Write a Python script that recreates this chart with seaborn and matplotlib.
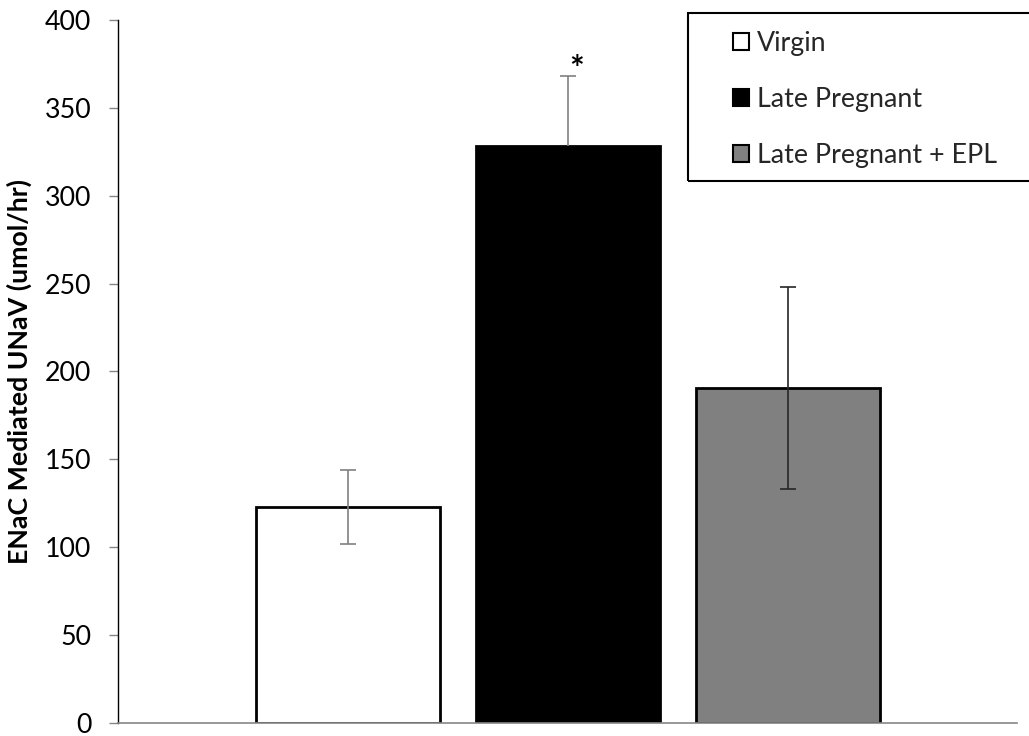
import matplotlib
matplotlib.use("Agg")
import matplotlib.pyplot as plt
import seaborn as sns
import pandas as pd
from matplotlib.patches import Patch, Rectangle

# Group means with lower / upper error (SEM), in umol/hr
groups = ["Virgin", "Late Pregnant", "Late Pregnant + EPL"]
means = [123, 328, 190.5]
err_low = [21, 0, 57.5]
err_high = [21, 40, 57.5]
marks = ["", "*", ""]
yticks = [0, 50, 100, 150, 200, 250, 300, 350, 400]
ylabel = "ENaC Mediated UNaV (umol/hr)"

fill_colors = ["#ffffff", "#000000", "#808080"]
err_colors = ["#808080", "#808080", "#262626"]

sns.set_theme(style="white")
plt.rcParams["font.family"] = ["Lato", "DejaVu Sans"]
FS = 19.3

fig = plt.figure(figsize=(10.29, 7.36), dpi=100)
ax = fig.add_axes([118.3 / 1029, 13.3 / 736, (1017 - 118.3) / 1029, (722.7 - 20) / 736])

df = pd.DataFrame({"group": groups, "value": means})
sns.barplot(
    data=df, x="group", y="value", hue="group", order=groups, hue_order=groups,
    palette=fill_colors, width=0.836, edgecolor="black", linewidth=2.0,
    legend=False, dodge=False, errorbar=None, ax=ax,
)

for i, (m, lo, hi) in enumerate(zip(means, err_low, err_high)):
    _, caps, _ = ax.errorbar(
        i, m, yerr=[[lo], [hi]], fmt="none", ecolor=err_colors[i],
        elinewidth=1.2, capsize=6, capthick=1.2, zorder=5,
    )
    if lo == 0:
        caps[0].set_visible(False)
    if marks[i]:
        ax.annotate(
            marks[i], xy=(i, m + hi), xytext=(5.8, -3), textcoords="offset points",
            ha="center", va="baseline", fontsize=25, fontweight="bold", color="black",
        )

ax.set_xlim(-1.044, 3.04)
ax.set_ylim(0, 400)
ax.set_yticks(yticks)
ax.set_yticklabels([str(t) for t in yticks], fontsize=FS, color="black")
ax.set_xticks([])
ax.set_xlabel("")
ax.set_ylabel(ylabel, fontsize=FS, fontweight="bold", color="black")
ax.yaxis.set_label_coords(-86 / 899, 0.5)

ax.tick_params(axis="y", which="major", left=True, length=6.5, width=1.0,
               color="#868686", pad=13)
for side in ("top", "right"):
    ax.spines[side].set_visible(False)
ax.spines["left"].set_color("black")
ax.spines["left"].set_linewidth(1.0)
ax.spines["bottom"].set_color("#868686")
ax.spines["bottom"].set_linewidth(1.2)

# Legend with a frame that runs off the right edge of the figure
handles = [Patch(facecolor=c, edgecolor="black", linewidth=1.5) for c in fill_colors]
fig.legend(
    handles, groups, loc="upper left", bbox_to_anchor=(733 / 1029, 1 - 31 / 736),
    frameon=False, fontsize=FS, handlelength=0.6, handleheight=0.6,
    handletextpad=0.3, labelspacing=1.16, borderpad=0, borderaxespad=0,
)
fig.patches.append(Rectangle(
    (687.5 / 1029, 1 - 181 / 736), (1040 - 687.5) / 1029, (181 - 12.7) / 736,
    transform=fig.transFigure, facecolor="none", edgecolor="black",
    linewidth=1.5, clip_on=False,
))

fig.savefig("out.png", dpi=100)
